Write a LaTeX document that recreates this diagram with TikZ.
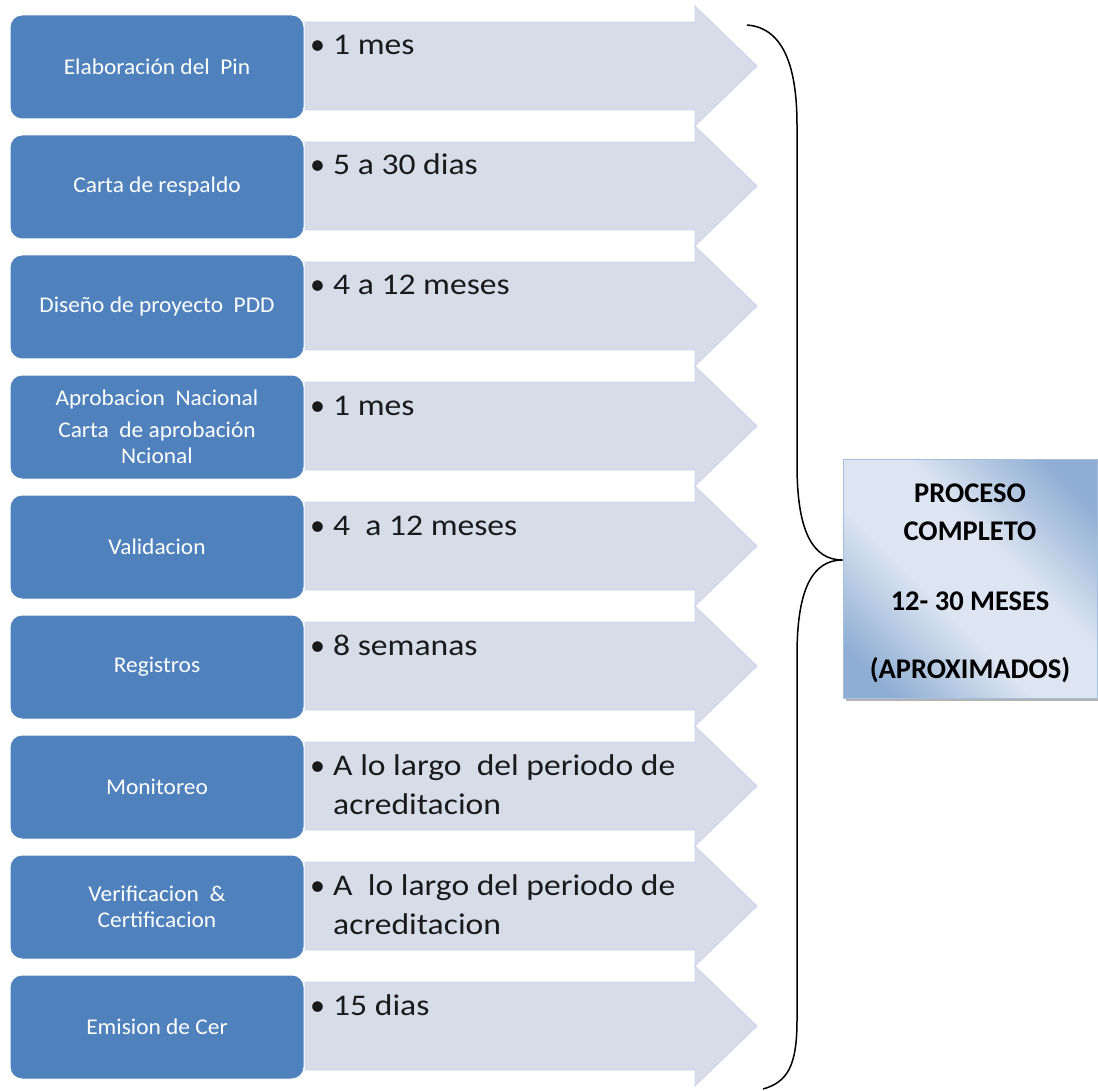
\documentclass[tikz,border=0pt]{standalone}
\usepackage{fontspec}
\setmainfont{Carlito}
\newfontfamily\durfont[FakeStretch=1.12]{Carlito}
\newfontfamily\lblfont[FakeStretch=1.04]{Carlito}
\definecolor{boxblue}{HTML}{4F81BD}
\definecolor{arrowfill}{HTML}{D6DDE9}
\definecolor{procdark}{HTML}{8FAED4}
\definecolor{proclight}{HTML}{DCE5F1}
\definecolor{txtgray}{HTML}{1A1A1A}
\pgfdeclareverticalshading{procshade}{100bp}{color(0bp)=(procdark); color(22bp)=(procdark); color(42bp)=(proclight); color(58bp)=(proclight); color(78bp)=(procdark); color(100bp)=(procdark)}
\begin{document}
\begin{tikzpicture}[x=1pt,y=-1pt,
  stepbox/.style={draw=white, line width=1pt, fill=boxblue, rounded corners=12pt,
    minimum width=294pt, minimum height=104pt, text=white,
    font=\lblfont\fontsize{22.5}{26}\selectfont, align=center, inner sep=0pt},
  arrowshape/.style={fill=arrowfill, draw=arrowfill!90!blue!80!white, line width=0.8pt},
  dur/.style={anchor=base west, font=\durfont\fontsize{30}{39}\selectfont,
    inner sep=0pt, text=txtgray},
  bul/.style={anchor=base west, font=\fontsize{30}{39}\selectfont, inner sep=0pt, text=txtgray},
  brace/.style={draw=black, line width=1.5pt},
  procbox/.style={draw=procdark!80!white, line width=1pt, shading=procshade, shading angle=-45,
    minimum width=254pt, minimum height=239pt, inner sep=0pt},
  proctext/.style={align=center, inner sep=0pt, font=\fontsize{28.5}{38}\selectfont\bfseries}
]
\useasboundingbox (0,0) rectangle (1098,1091);
\newcommand{\steprow}[3]{%
  \pgfmathsetmacro{\cy}{66+120*(#1-1)}
  \fill[arrowshape] (305,\cy-44) -- (695,\cy-44) -- (695,\cy-60) -- (757,\cy)
     -- (695,\cy+60) -- (695,\cy+44) -- (305,\cy+44) -- cycle;
  \node[stepbox] (b#1) at (157,\cy+1) {#2};
  \node[bul] (p#1) at (310,\cy-11) {•};
  \node[dur] (d#1) at (333,\cy-11) {\begin{tabular}[t]{@{}l@{}}#3\end{tabular}};
}
\steprow{1}{Elaboración del \ Pin}{1 mes}
\steprow{2}{Carta de respaldo}{5 a 30 dias}
\steprow{3}{Diseño de proyecto \ PDD}{4 a 12 meses}
\steprow{4}{Aprobacion \ Nacional\\[6pt]Carta \ de aprobación\\Ncional}{1 mes}
\steprow{5}{Validacion}{4 \ a 12 meses}
\steprow{6}{Registros}{8 semanas}
\steprow{7}{Monitoreo}{A lo largo \ del periodo de\\acreditacion}
\steprow{8}{Verificacion \ \&\\Certificacion}{A \ lo largo del periodo de\\acreditacion}
\steprow{9}{Emision de Cer}{15 dias}
% right box with shadow
\fill[gray!60] (846,462) rectangle (1100,701);
\node[procbox] (proc) at (970,578.5) {};
\node[proctext] (proct) at (970,583) {PROCESO\\COMPLETO\\[32pt]12- 30 MESES\\[30pt](APROXIMADOS)};
% brace
\coordinate (btop) at (747,25);
\coordinate (bcusp) at (proc.west |- 0,560);
\coordinate (bbot) at (763,1089);
\draw[brace] (btop) .. controls (785,28) and (797,70) .. (797,125)
  -- (797,465) .. controls (797,530) and (812,560) .. (bcusp)
  .. controls (812,560) and (797,590) .. (797,655)
  -- (797,1020) .. controls (797,1065) and (788,1082) .. (bbot);
\end{tikzpicture}
\end{document}
